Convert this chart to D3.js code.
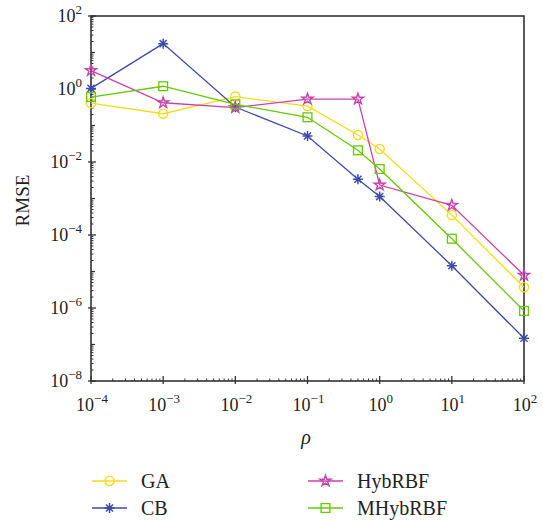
<!DOCTYPE html>
<html>
<head>
<meta charset="utf-8">
<script src="https://cdn.jsdelivr.net/npm/d3@7"></script>
<style>
  body { margin: 0; background: #fff; }
  svg text { font-family: "Liberation Serif", "DejaVu Serif", serif; fill: #222; }
</style>
</head>
<body>
<svg id="chart" width="543" height="522"></svg>
<script>
// data
const rho = [1e-4, 1e-3, 1e-2, 1e-1, 0.5, 1, 10, 100];
const gaValues = [0.41, 0.21, 0.62, 0.34, 0.055, 0.0227, 3.5e-4, 3.7e-6];
const cbValues = [1.04, 17.5, 0.32, 0.0516, 0.00336, 0.00113, 1.44e-5, 1.48e-7];
const hybValues = [3.2, 0.42, 0.31, 0.53, 0.53, 0.00234, 6.5e-4, 7.9e-6];
const mhybValues = [0.60, 1.19, 0.38, 0.168, 0.0209, 0.00643, 7.9e-5, 8.3e-7];
const xTickExp = [-4, -3, -2, -1, 0, 1, 2];
const yTickExp = [-8, -6, -4, -2, 0, 2];

const series = [
  { name: "GA", values: gaValues, color: "#f5dc14", marker: "circle" },
  { name: "CB", values: cbValues, color: "#3d4bab", marker: "asterisk" },
  { name: "HybRBF", values: hybValues, color: "#c843b0", marker: "star" },
  { name: "MHybRBF", values: mhybValues, color: "#66c800", marker: "square" }
];

const svg = d3.select("#chart");
const plotL = 91, plotR = 524, plotT = 16, plotB = 381;

const x = d3.scaleLog().domain([1e-4, 1e2]).range([plotL, plotR]);
const y = d3.scaleLog().domain([1e-8, 1e2]).range([plotB, plotT]);

// ----------------------------------------------------------------------
// frame + ticks
// ----------------------------------------------------------------------
const axisColor = "#333";
const g = svg.append("g");

// minor ticks
const minorX = [];
for (let e = -4; e < 2; e++) for (let k = 2; k <= 9; k++) minorX.push(k * Math.pow(10, e));
g.selectAll(".mx").data(minorX).enter().append("line")
  .attr("x1", d => x(d)).attr("x2", d => x(d))
  .attr("y1", plotB).attr("y2", plotB - 2.5)
  .attr("stroke", axisColor).attr("stroke-width", 1);

const minorY = [];
for (let e = -8; e < 2; e++) for (let k = 2; k <= 9; k++) minorY.push(k * Math.pow(10, e));
g.selectAll(".my").data(minorY).enter().append("line")
  .attr("x1", plotL).attr("x2", plotL + 2.5)
  .attr("y1", d => y(d)).attr("y2", d => y(d))
  .attr("stroke", axisColor).attr("stroke-width", 1);

// odd decades on y get a slightly longer tick
const midY = [-7, -5, -3, -1, 1];
g.selectAll(".midy").data(midY).enter().append("line")
  .attr("x1", plotL).attr("x2", plotL + 4)
  .attr("y1", d => y(Math.pow(10, d))).attr("y2", d => y(Math.pow(10, d)))
  .attr("stroke", axisColor).attr("stroke-width", 1.2);

// major ticks
g.selectAll(".tx").data(xTickExp).enter().append("line")
  .attr("x1", d => x(Math.pow(10, d))).attr("x2", d => x(Math.pow(10, d)))
  .attr("y1", plotB + 3).attr("y2", plotB - 5)
  .attr("stroke", axisColor).attr("stroke-width", 1.3);
g.selectAll(".ty").data(yTickExp).enter().append("line")
  .attr("x1", plotL - 3).attr("x2", plotL + 5)
  .attr("y1", d => y(Math.pow(10, d))).attr("y2", d => y(Math.pow(10, d)))
  .attr("stroke", axisColor).attr("stroke-width", 1.3);

g.append("rect")
  .attr("x", plotL).attr("y", plotT)
  .attr("width", plotR - plotL).attr("height", plotB - plotT)
  .attr("fill", "none").attr("stroke", axisColor).attr("stroke-width", 1.6);

// tick labels as 10^n
function powLabel(sel, exp) {
  sel.append("tspan").text("10");
  sel.append("tspan").attr("dy", -8).attr("font-size", 13)
    .text(exp < 0 ? "\u2212" + Math.abs(exp) : String(exp));
}

xTickExp.forEach(e => {
  const t = svg.append("text")
    .attr("x", x(Math.pow(10, e)) + 1).attr("y", 411)
    .attr("font-size", 18).attr("text-anchor", "middle");
  powLabel(t, e);
});
yTickExp.forEach(e => {
  const t = svg.append("text")
    .attr("x", plotL - 9).attr("y", y(Math.pow(10, e)) + 6)
    .attr("font-size", 18).attr("text-anchor", "end");
  powLabel(t, e);
});

// axis titles
svg.append("text")
  .attr("transform", `translate(29, ${(plotT + plotB) / 2 + 2}) rotate(-90)`)
  .attr("text-anchor", "middle").attr("font-size", 19)
  .text("RMSE");
svg.append("text")
  .attr("x", 306).attr("y", 444)
  .attr("text-anchor", "middle").attr("font-size", 20).attr("font-style", "italic")
  .text("\u03c1");

// ----------------------------------------------------------------------
// markers
// ----------------------------------------------------------------------
function drawMarker(sel, type, color) {
  if (type === "circle") {
    sel.append("circle").attr("r", 4.6)
      .attr("fill", "none").attr("stroke", color).attr("stroke-width", 1.3);
  } else if (type === "square") {
    sel.append("rect").attr("x", -4.4).attr("y", -4.4).attr("width", 8.8).attr("height", 8.8)
      .attr("fill", "none").attr("stroke", color).attr("stroke-width", 1.3);
  } else if (type === "star") {
    sel.append("path")
      .attr("d", d3.symbol().type(d3.symbolStar).size(38)())
      .attr("fill", "none").attr("stroke", color).attr("stroke-width", 1.4);
  } else {
    const r = 5;
    const p = [];
    for (let i = 0; i < 4; i++) {
      const a = i * Math.PI / 4;
      p.push(`M${-r * Math.cos(a)},${-r * Math.sin(a)}L${r * Math.cos(a)},${r * Math.sin(a)}`);
    }
    sel.append("path").attr("d", p.join(""))
      .attr("stroke", color).attr("stroke-width", 1.5);
  }
}

const line = d3.line().x(d => x(d[0])).y(d => y(d[1]));

series.forEach(s => {
  const pts = rho.map((r, i) => [r, s.values[i]]);
  svg.append("path").datum(pts)
    .attr("d", line)
    .attr("fill", "none").attr("stroke", s.color).attr("stroke-width", 1.3);
  pts.forEach(p => {
    const m = svg.append("g").attr("transform", `translate(${x(p[0])},${y(p[1])})`);
    drawMarker(m, s.marker, s.color);
  });
});

// ----------------------------------------------------------------------
// legend
// ----------------------------------------------------------------------
const legendPos = [
  { lx: 92, ly: 481 }, { lx: 92, ly: 508 },
  { lx: 308, ly: 481 }, { lx: 308, ly: 508 }
];
series.forEach((s, i) => {
  const p = legendPos[i];
  svg.append("line")
    .attr("x1", p.lx).attr("x2", p.lx + 35)
    .attr("y1", p.ly).attr("y2", p.ly)
    .attr("stroke", s.color).attr("stroke-width", 1.3);
  const m = svg.append("g").attr("transform", `translate(${p.lx + 17.5},${p.ly})`);
  drawMarker(m, s.marker, s.color);
  svg.append("text")
    .attr("x", p.lx + 49).attr("y", p.ly + 7)
    .attr("font-size", 20)
    .text(s.name);
});
</script>
</body>
</html>
